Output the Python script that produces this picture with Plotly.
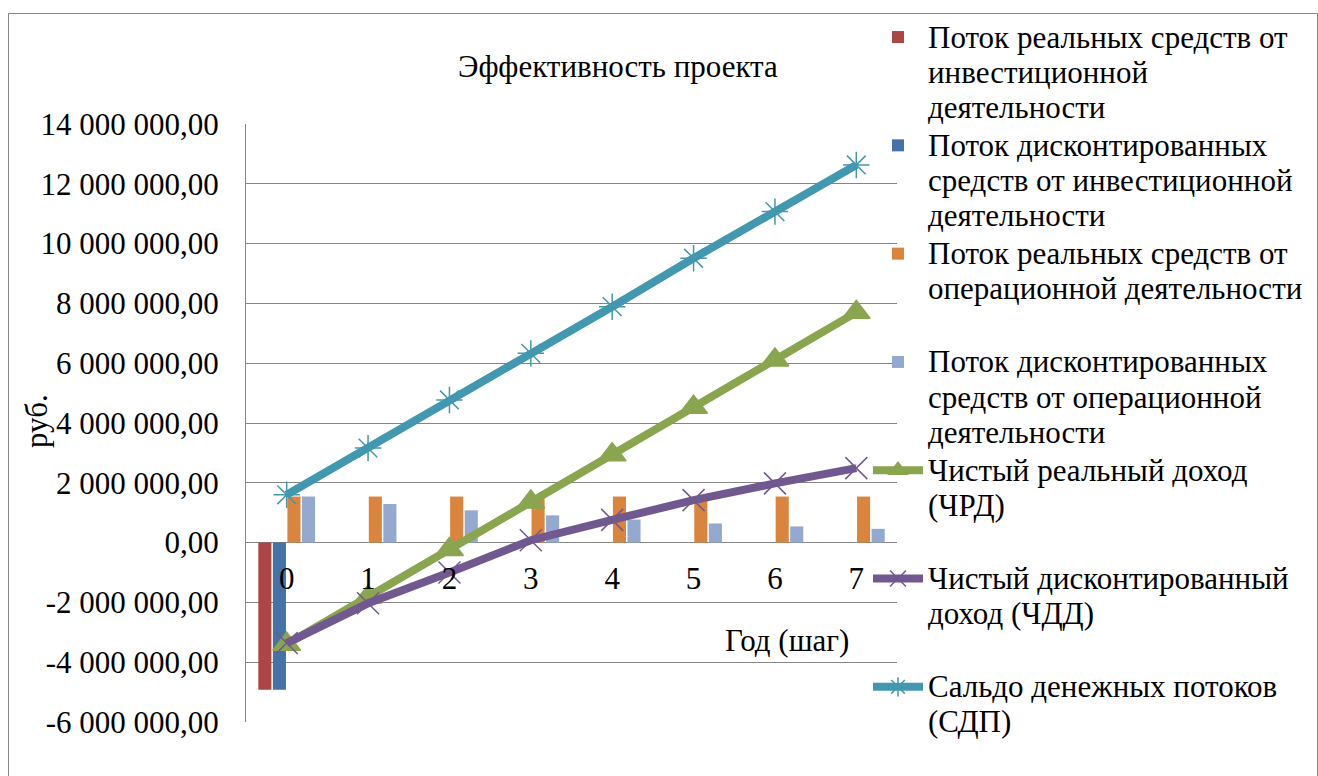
import plotly.graph_objects as go

# ---------------- data ----------------
years = [0, 1, 2, 3, 4, 5, 6, 7]

invest_real = [-4920000, 0, 0, 0, 0, 0, 0, 0]
invest_disc = [-4920000, 0, 0, 0, 0, 0, 0, 0]
oper_real = [1540000, 1540000, 1540000, 1540000, 1540000, 1540000, 1540000, 1540000]
oper_disc = [1540000, 1290000, 1080000, 910000, 770000, 640000, 540000, 460000]
chrd = [-3400000, -1820000, -230000, 1360000, 2940000, 4530000, 6110000, 7700000]
chdd = [-3360000, -2030000, -1000000, 80000, 760000, 1420000, 1980000, 2490000]
sdp = [1600000, 3160000, 4770000, 6330000, 7890000, 9510000, 11070000, 12630000]

series_names = [
    ["Поток реальных средств от", "инвестиционной", "деятельности"],
    ["Поток дисконтированных", "средств от инвестиционной", "деятельности"],
    ["Поток реальных средств от", "операционной деятельности"],
    ["Поток дисконтированных", "средств от операционной", "деятельности"],
    ["Чистый реальный доход", "(ЧРД)"],
    ["Чистый дисконтированный", "доход (ЧДД)"],
    ["Сальдо денежных потоков", "(СДП)"],
]

y_tick_values = [-6000000, -4000000, -2000000, 0, 2000000, 4000000, 6000000,
                 8000000, 10000000, 12000000, 14000000]

title_text = "Эффективность проекта"
x_title = "Год (шаг)"
y_title = "руб."

# ---------------- styling ----------------
FONT = "Liberation Serif"
BIG = 31
GRID = "#868686"
colors = ["#AA4643", "#4572A7", "#DB843D", "#93A9CF", "#89A54E", "#71588F", "#4198AF"]


def legend_label(lines, pad):
    parts = ['<span style="font-size:%dpx">%s</span>' % (BIG, l) for l in lines]
    if pad and len(lines) < 3:
        parts += ["\u00a0"] * (3 - len(lines))
    return "<br>".join(parts)


def fmt_tick(v):
    s = f"{v:,.2f}"
    return s.replace(",", " ").replace(".", ",")


y_tick_text = [fmt_tick(v) for v in y_tick_values]

fig = go.Figure()

bar_data = [invest_real, invest_disc, oper_real, oper_disc]
for i, vals in enumerate(bar_data):
    fig.add_trace(go.Bar(
        x=years, y=vals, name=legend_label(series_names[i], True),
        marker=dict(color=colors[i], line=dict(width=0)),
    ))

line_data = [chrd, chdd, sdp]
symbols = ["triangle-up", "x-thin-open", "asterisk-open"]
msizes = [24, 22, 22]
for j, vals in enumerate(line_data):
    i = 4 + j
    fig.add_trace(go.Scatter(
        x=years, y=vals, mode="lines+markers",
        name=legend_label(series_names[i], i != 6),
        line=dict(color=colors[i], width=8),
        marker=dict(symbol=symbols[j], size=msizes[j], color=colors[i],
                    line=dict(color=colors[i], width=1.5)),
    ))

W, H = 1318, 776
L, R, T, B = 246, 421, 124, 54
pw, ph = W - L - R, H - T - B


def px(xpix):
    return (xpix - L) / pw


def py(ypix):
    return (H - B - ypix) / ph


fig.update_layout(
    width=W, height=H,
    margin=dict(l=L, r=R, t=T, b=B, autoexpand=False),
    paper_bgcolor="white", plot_bgcolor="white",
    font=dict(family=FONT, size=BIG, color="black"),
    barmode="group", bargap=0.285, bargroupgap=0.1,
    showlegend=True,
    legend=dict(
        x=px(868), y=py(13), xanchor="left", yanchor="top",
        bgcolor="rgba(0,0,0,0)", font=dict(size=27, family=FONT, color="black"),
        traceorder="normal", valign="top", itemwidth=50, maxheight=770,
    ),
    xaxis=dict(
        type="category", range=[-0.5, 7.5], showgrid=False, zeroline=False,
        showline=False, ticks="", anchor="free",
        position=(0 - y_tick_values[0]) / (y_tick_values[-1] - y_tick_values[0]),
        tickfont=dict(size=BIG, family=FONT), ticklabelstandoff=14,
    ),
    yaxis=dict(
        range=[y_tick_values[0], y_tick_values[-1]],
        tickmode="array", tickvals=y_tick_values, ticktext=y_tick_text,
        showgrid=True, gridcolor=GRID, gridwidth=1,
        zeroline=True, zerolinecolor=GRID, zerolinewidth=1,
        showline=True, linecolor=GRID, linewidth=1, ticks="",
        tickfont=dict(size=BIG, family=FONT), ticklabelstandoff=20,
    ),
    annotations=[
        dict(text=title_text, x=px(618), y=py(66), xref="paper", yref="paper",
             showarrow=False, font=dict(size=BIG, family=FONT), xanchor="center", yanchor="middle"),
        dict(text=x_title, x=px(787), y=py(640), xref="paper", yref="paper",
             showarrow=False, font=dict(size=BIG, family=FONT), xanchor="center", yanchor="middle"),
        dict(text=y_title, x=px(36), y=py(421), xref="paper", yref="paper",
             showarrow=False, font=dict(size=BIG, family=FONT), textangle=-90,
             xanchor="center", yanchor="middle"),
    ],
    shapes=[
        dict(type="rect", xref="paper", yref="paper",
             x0=px(8.5), x1=px(1317.5), y0=py(800), y1=py(13.5),
             line=dict(color=GRID, width=1), fillcolor="rgba(0,0,0,0)", layer="below"),
    ],
)

fig.write_html("out.html")
